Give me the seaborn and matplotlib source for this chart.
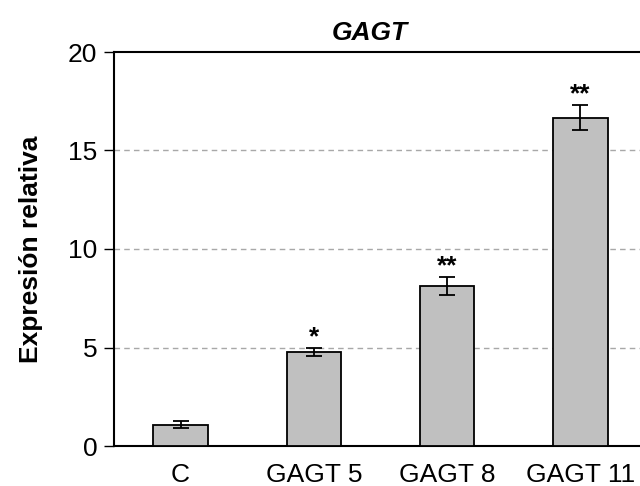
import matplotlib
matplotlib.use("Agg")
import matplotlib.pyplot as plt
import seaborn as sns
import pandas as pd

categories = ["C", "GAGT 5", "GAGT 8", "GAGT 11"]
means = [1.07, 4.79, 8.14, 16.67]
errors = [0.18, 0.21, 0.45, 0.65]
stars = ["", "*", "**", "**"]
y_ticks = [0, 5, 10, 15, 20]

sns.set_theme(style="white")
plt.rcParams["font.family"] = ["Liberation Sans", "DejaVu Sans"]
plt.rcParams["text.color"] = "black"
plt.rcParams["axes.labelcolor"] = "black"
plt.rcParams["xtick.color"] = "black"
plt.rcParams["ytick.color"] = "black"

df = pd.DataFrame({"grupo": categories, "expr": means})

fig = plt.figure(figsize=(6.4, 4.86), dpi=100)
ax = fig.add_axes([114 / 640, 40 / 486, 533 / 640, 394 / 486])

sns.barplot(data=df, x="grupo", y="expr", order=categories, color="#c0c0c0",
            saturation=1, width=0.41, edgecolor="black", linewidth=1.3,
            errorbar=None, ax=ax, zorder=3)
ax.errorbar(range(len(categories)), means, yerr=errors, fmt="none",
            ecolor="black", elinewidth=1.3, capsize=6, capthick=1.3, zorder=4)

for i, (m, e, s) in enumerate(zip(means, errors, stars)):
    if s:
        ax.annotate(s, xy=(i, m + e), xytext=(0, 2.5), textcoords="offset points",
                    ha="center", va="baseline", fontsize=19, fontweight="bold")

ax.set_xlim(-0.5, 3.5)
ax.set_ylim(0, 20)
ax.set_yticks(y_ticks)
for y in y_ticks[1:-1]:
    ax.axhline(y, color="#a8a8a8", lw=1, ls=(0, (4, 3)), zorder=1)

ax.set_xlabel("")
ax.set_ylabel("Expresión relativa", fontsize=19, fontweight="bold", labelpad=18)
ax.tick_params(axis="y", which="major", direction="out", length=7, width=1,
               color="black", labelcolor="black", labelsize=19, pad=5, left=True)
ax.tick_params(axis="x", length=0, labelcolor="black", labelsize=19, pad=12)

for side in ["left", "top", "bottom"]:
    ax.spines[side].set_color("black")
    ax.spines[side].set_linewidth(1.5)
ax.spines["right"].set_visible(False)

fig.text(370 / 640, 1 - 33 / 486, "GAGT", ha="center", va="center",
         fontsize=19, fontweight="bold", fontstyle="italic", color="black")

fig.savefig("out.png", dpi=100)
